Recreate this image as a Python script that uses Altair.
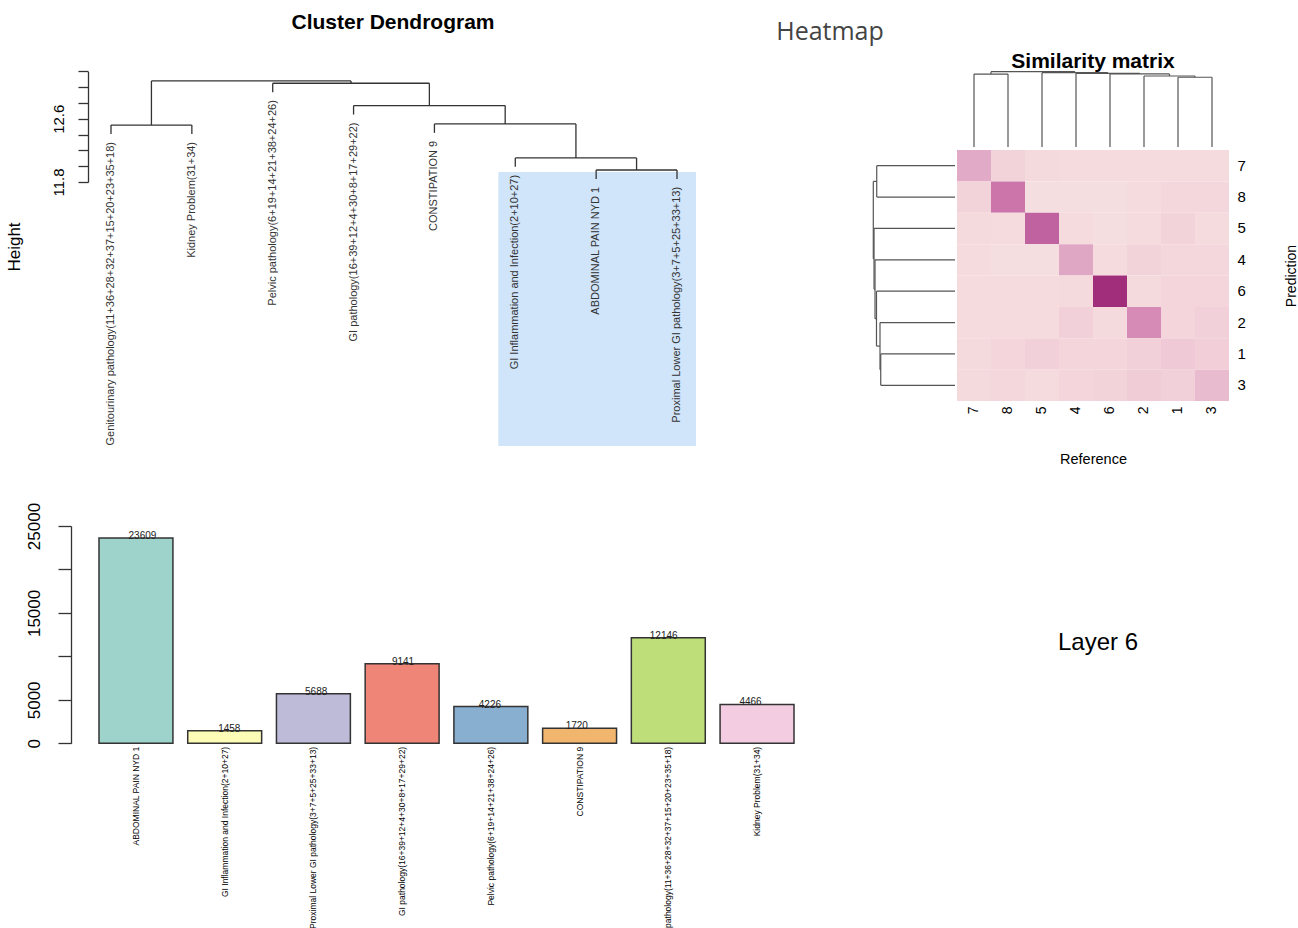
import altair as alt
import pandas as pd

FONT = "Liberation Sans"
INK = "#333333"

# ---------------- Cluster dendrogram (hclust) ----------------
cluster_labels = [
    "Genitourinary pathology(11+36+28+32+37+15+20+23+35+18)",
    "Kidney Problem(31+34)",
    "Pelvic pathology(6+19+14+21+38+24+26)",
    "GI pathology(16+39+12+4+30+8+17+29+22)",
    "CONSTIPATION 9",
    "GI Inflammation and Infection(2+10+27)",
    "ABDOMINAL PAIN NYD 1",
    "Proximal Lower GI pathology(3+7+5+25+33+13)",
]
# R-style merge table: negative = leaf position, positive = earlier merge
cluster_merge = [(-7, -8), (-6, 1), (-1, -2), (-5, 2), (-4, 4), (-3, 5), (3, 6)]
cluster_height = [11.952, 12.104, 12.520, 12.534, 12.766, 13.049, 13.078]
height_ticks = [11.8, 12.0, 12.2, 12.4, 12.6, 12.8, 13.0, 13.2]

# ---------------- Similarity matrix ----------------
matrix_order = ["7", "8", "5", "4", "6", "2", "1", "3"]
sim_7 = [0.30, 0.07, 0.04, 0.03, 0.03, 0.03, 0.03, 0.03]
sim_8 = [0.07, 0.55, 0.02, 0.02, 0.02, 0.03, 0.05, 0.05]
sim_5 = [0.04, 0.03, 0.65, 0.03, 0.02, 0.03, 0.07, 0.03]
sim_4 = [0.03, 0.02, 0.02, 0.32, 0.03, 0.07, 0.05, 0.05]
sim_6 = [0.03, 0.03, 0.03, 0.04, 0.95, 0.04, 0.06, 0.06]
sim_2 = [0.03, 0.03, 0.03, 0.08, 0.04, 0.45, 0.06, 0.08]
sim_1 = [0.04, 0.06, 0.08, 0.06, 0.06, 0.08, 0.11, 0.09]
sim_3 = [0.04, 0.05, 0.03, 0.06, 0.07, 0.10, 0.08, 0.20]
sim_rows = [sim_7, sim_8, sim_5, sim_4, sim_6, sim_2, sim_1, sim_3]

row_merge = [(-7, -8), (-6, 1), (-1, -2), (-5, 2), (-4, 4), (-3, 5), (3, 6)]
row_height = [0.909, 0.918, 0.958, 0.961, 0.979, 0.991, 1.0]
col_merge = [(-7, -8), (-6, 1), (-1, -2), (-5, 2), (-4, 4), (-3, 5), (3, 6)]
col_height = [0.926, 0.943, 0.969, 0.970, 0.979, 0.987, 1.0]

# ---------------- Bar chart ----------------
bar_labels = [
    "ABDOMINAL PAIN NYD 1",
    "GI Inflammation and Infection(2+10+27)",
    "Proximal Lower GI pathology(3+7+5+25+33+13)",
    "GI pathology(16+39+12+4+30+8+17+29+22)",
    "Pelvic pathology(6+19+14+21+38+24+26)",
    "CONSTIPATION 9",
    "Genitourinary pathology(11+36+28+32+37+15+20+23+35+18)",
    "Kidney Problem(31+34)",
]
bar_values = [23609, 1458, 5688, 9141, 4226, 1720, 12146, 4466]
bar_colors = ["#9dd3ca", "#fdfcb6", "#bebbd9", "#ee8577",
              "#88aed0", "#f2b56d", "#bede7a", "#f3cce2"]
count_ticks = [0, 5000, 10000, 15000, 20000, 25000]


def dendro_segments(merge, heights, hang=None):
    """Turn an hclust merge table into line segments (position, height)."""
    span = max(heights) - min(heights)
    centre, segs, leaf_end = {}, [], {}
    for i, ((a, b), h) in enumerate(zip(merge, heights), start=1):
        xs = []
        for c in (a, b):
            if c < 0:
                x = -c
                base = h - hang * span if hang is not None else 0.0
                leaf_end[x] = base
            else:
                x = centre[c]
                base = heights[c - 1]
            segs.append({"p": x, "p2": x, "h": base, "h2": h})
            xs.append(x)
        segs.append({"p": xs[0], "p2": xs[1], "h": h, "h2": h})
        centre[i] = (xs[0] + xs[1]) / 2
    return pd.DataFrame(segs), leaf_end


def lin(domain, rng):
    return alt.Scale(domain=domain, range=rng, nice=False, zero=False)


def text_at(txt, x, y, **kw):
    kw.setdefault("font", FONT)
    return alt.Chart(pd.DataFrame({"t": [txt]})).mark_text(**kw).encode(
        x=alt.value(x), y=alt.value(y), text="t:N")


# ---- cluster dendrogram panel ----
seg_df, leaf_end = dendro_segments(cluster_merge, cluster_height, hang=0.1)
leaf_df = pd.DataFrame({
    "p": list(range(1, len(cluster_labels) + 1)),
    "h": [leaf_end[i] for i in range(1, len(cluster_labels) + 1)],
    "label": cluster_labels,
})
cx = lin([1, 8], [111, 677])
cy = lin([11.8, 13.2], [182, 71.3])

HIGHLIGHT = {"p0": [5.79], "p1": [8.235], "h0": [8.46], "h1": [11.927]}
highlight = alt.Chart(pd.DataFrame(HIGHLIGHT)).mark_rect(color="#d0e4fa").encode(
    x=alt.X("p0:Q", scale=cx, axis=None), x2="p1:Q",
    y=alt.Y("h0:Q", scale=cy, axis=None), y2="h1:Q",
)
cluster_lines = alt.Chart(seg_df).mark_rule(color=INK, strokeWidth=1.3).encode(
    x=alt.X("p:Q", scale=cx, axis=None), x2="p2:Q",
    y=alt.Y("h:Q", scale=cy, axis=alt.Axis(
        orient="left", offset=-88, values=height_ticks, title=None, grid=False,
        labelExpr="abs(datum.value - 11.8) < 0.001 || abs(datum.value - 12.6) < 0.001 ? format(datum.value, '.1f') : ''",
        tickSize=10, tickColor=INK, domainColor=INK, domainWidth=1.3, tickWidth=1.3,
        labelAngle=270, labelAlign="center", labelBaseline="bottom",
        labelFontSize=15, labelPadding=12, labelColor="black",
        labelOverlap=False, labelFlush=False)),
    y2="h2:Q",
)
cluster_text = alt.Chart(leaf_df).mark_text(
    angle=270, align="right", baseline="middle", dx=-8, fontSize=11,
    font=FONT, color=INK).encode(
    x=alt.X("p:Q", scale=cx, axis=None),
    y=alt.Y("h:Q", scale=cy, axis=None),
    text="label:N",
)

# ---- similarity heatmap panel ----
cells = pd.DataFrame([
    {"Prediction": r, "Reference": c, "value": sim_rows[i][j]}
    for i, r in enumerate(matrix_order) for j, c in enumerate(matrix_order)
])
heat = alt.Chart(cells).mark_rect().encode(
    x=alt.X("Reference:N", sort=matrix_order,
            scale=alt.Scale(range=[957, 1229], paddingInner=0, paddingOuter=0),
            axis=alt.Axis(orient="bottom", offset=-527, title="Reference",
                          titleFontSize=14.5, titleFontWeight="normal", titleColor="black",
                          titleX=1093, titleY=58, titleBaseline="middle", titleAnchor="middle",
                          titleAlign="center",
                          labelAngle=270, labelAlign="right", labelBaseline="middle",
                          labelFontSize=14, labelPadding=5, labelColor="black",
                          domain=False, ticks=False)),
    y=alt.Y("Prediction:N", sort=matrix_order,
            scale=alt.Scale(range=[150, 401], paddingInner=0, paddingOuter=0),
            axis=alt.Axis(orient="right", offset=-69, title="Prediction",
                          titleFontSize=14, titleFontWeight="normal", titleColor="black",
                          titleAngle=270, titleX=62, titleY=275.5, titleBaseline="middle",
                          titleAlign="center",
                          labelFontSize=15, labelPadding=8, labelColor="black",
                          labelAlign="left", labelBaseline="middle",
                          domain=False, ticks=False)),
    color=alt.Color("value:Q", legend=None, scale=alt.Scale(
        domain=[0, 0.1, 0.3, 0.6, 1.0],
        range=["#f6e2e3", "#f0ccd7", "#e1abc7", "#c76aa6", "#9a2474"])),
)

row_seg, _ = dendro_segments(row_merge, row_height)
col_seg, _ = dendro_segments(col_merge, col_height)
rx = lin([0, 1], [955, 873.3])
ry = lin([0.5, 8.5], [150, 401])
row_dendro = alt.Chart(row_seg).mark_rule(color="#555555", strokeWidth=1.2).encode(
    x=alt.X("h:Q", scale=rx, axis=None), x2="h2:Q",
    y=alt.Y("p:Q", scale=ry, axis=None), y2="p2:Q",
)
kx = lin([0.5, 8.5], [957, 1229])
ky = lin([0, 1], [147, 71.7])
col_dendro = alt.Chart(col_seg).mark_rule(color="#555555", strokeWidth=1.2).encode(
    x=alt.X("p:Q", scale=kx, axis=None), x2="p2:Q",
    y=alt.Y("h:Q", scale=ky, axis=None), y2="h2:Q",
)

# ---- bar chart panel ----
bars_df = pd.DataFrame({"name": bar_labels, "count": bar_values})
bx = alt.Scale(domain=bar_labels, range=[99, 794], paddingInner=0.1667, paddingOuter=0)
by = lin([0, 25000], [743.3, 526])
bars = alt.Chart(bars_df).mark_bar(stroke=INK, strokeWidth=1.5).encode(
    x=alt.X("name:N", sort=bar_labels, scale=bx, axis=alt.Axis(
        orient="bottom", offset=-184.7, title=None, labelAngle=270,
        labelAlign="right", labelBaseline="middle", labelFontSize=8.5,
        labelPadding=3, labelLimit=1000, labelColor="black",
        domain=False, ticks=False)),
    y=alt.Y("count:Q", scale=by, axis=alt.Axis(
        orient="left", offset=-71, values=count_ticks, title=None, grid=False,
        labelExpr="datum.value == 10000 || datum.value == 20000 ? '' : format(datum.value, 'd')",
        tickSize=13, tickColor=INK, domainColor=INK, domainWidth=1.3, tickWidth=1.3,
        labelAngle=270, labelAlign="center", labelBaseline="bottom",
        labelFontSize=17, labelPadding=15, labelColor="black",
        labelOverlap=False, labelFlush=False)),
    color=alt.Color("name:N", legend=None,
                    scale=alt.Scale(domain=bar_labels, range=bar_colors)),
)
bar_text = alt.Chart(bars_df).mark_text(
    baseline="middle", dy=-2, fontSize=10, font=FONT, color="#222222").encode(
    x=alt.X("name:N", sort=bar_labels, scale=bx, axis=None),
    y=alt.Y("count:Q", scale=by, axis=None),
    text="count:Q",
)

layers = [
    highlight, cluster_lines, cluster_text,
    text_at("Cluster Dendrogram", 393, 23, fontSize=21, fontWeight="bold", baseline="middle"),
    text_at("Height", 15, 247, fontSize=17, angle=270, baseline="middle"),
    text_at("Heatmap", 830, 32, fontSize=25, color="#444444", font="Open Sans", baseline="middle"),
    heat, row_dendro, col_dendro,
    text_at("Similarity matrix", 1093, 62, fontSize=21, fontWeight="bold", baseline="middle"),
    bars, bar_text,
    text_at("Layer 6", 1098, 643, fontSize=24, baseline="middle"),
]

chart = (
    alt.layer(*layers)
    .resolve_scale(x="independent", y="independent", color="independent")
    .resolve_axis(x="independent", y="independent")
    .properties(width=1298, height=928, padding=0,
                autosize=alt.AutoSizeParams(type="none"), background="white")
    .configure(font=FONT)
    .configure_view(stroke=None)
    .configure_axis(grid=False, labelFont=FONT, titleFont=FONT)
)

chart.save("out.html", embed_options={"renderer": "svg", "actions": False})
